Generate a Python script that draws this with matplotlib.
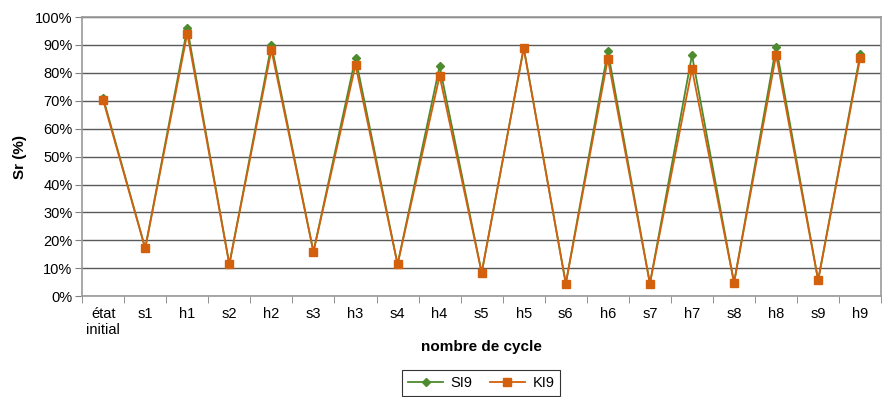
import matplotlib.pyplot as plt
import numpy as np

plt.rcParams['font.family'] = ['Liberation Sans', 'DejaVu Sans']

# données
cycles = ['état\ninitial', 's1', 'h1', 's2', 'h2', 's3', 'h3', 's4', 'h4', 's5',
          'h5', 's6', 'h6', 's7', 'h7', 's8', 'h8', 's9', 'h9']
sr_si9 = [71.0, 17.2, 96.0, 11.4, 90.0, 15.9, 85.5, 11.4, 82.4, 8.4,
          89.0, 4.5, 87.8, 4.5, 86.4, 4.8, 89.4, 5.7, 86.6]
sr_ki9 = [70.2, 17.1, 94.1, 11.4, 88.2, 15.9, 82.8, 11.4, 78.9, 8.4,
          88.8, 4.5, 85.0, 4.5, 81.4, 4.8, 86.4, 5.7, 85.4]

green = '#4E8A2E'
orange = '#D2600C'

fig = plt.figure(figsize=(8.83, 3.97), dpi=100)
ax = fig.add_axes([0.093, 0.254, 0.905, 0.703])

x = np.arange(len(cycles))
ax.plot(x, sr_si9, color=green, marker='D', markersize=4, lw=1.3, label='SI9', zorder=3)
ax.plot(x, sr_ki9, color=orange, marker='s', markersize=6, lw=1.3, label='KI9', zorder=4)

ax.set_xlim(-0.5, len(cycles) - 0.5)
ax.set_ylim(0, 100)
ax.set_yticks(np.arange(0, 101, 10))
ax.set_yticklabels([f'{v}%' for v in range(0, 101, 10)], fontsize=10.5)
ax.set_xticks(x)
ax.set_xticklabels(cycles, fontsize=10.5)
ax.set_xticks(np.arange(-0.5, len(cycles), 1), minor=True)
ax.tick_params(axis='x', which='major', length=0, pad=8)
ax.tick_params(axis='x', which='minor', length=5, color='#808080', direction='out')
ax.tick_params(axis='y', length=5, color='#808080', direction='out', pad=2)

ax.grid(axis='y', color='#5a5a5a', lw=1.0)
ax.set_axisbelow(True)
for s in ax.spines.values():
    s.set_color('#9a9a9a')
    s.set_linewidth(1.2)

ax.set_xlabel('nombre de cycle', fontsize=11, fontweight='bold', labelpad=2)
ax.set_ylabel('Sr (%)', fontsize=11, fontweight='bold', labelpad=6)

leg = fig.legend(loc='center', bbox_to_anchor=(0.545, 0.035), ncol=2, fontsize=10.5,
                 frameon=True, fancybox=False, edgecolor='black', handlelength=2.4,
                 handletextpad=0.5, borderpad=0.4, columnspacing=1.2)
leg.get_frame().set_linewidth(0.8)

fig.savefig('out.png', dpi=100)
